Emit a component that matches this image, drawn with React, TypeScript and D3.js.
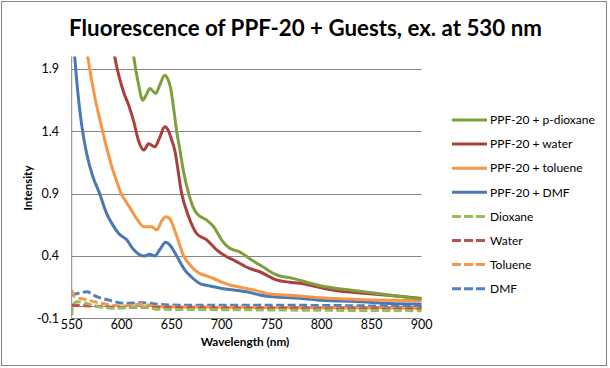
import { useRef, useEffect } from "react";
import * as d3 from "d3";

type Pt = [number, number];

const title = "Fluorescence of PPF-20 + Guests, ex. at 530 nm";
const xTicks = [550, 600, 650, 700, 750, 800, 850, 900];
const yTicks = [-0.1, 0.4, 0.9, 1.4, 1.9];

// [wavelength nm, intensity]
const ppfDioxane: Pt[] = [
  [608, 2.3], [612, 2.0], [617, 1.77], [621, 1.65], [625, 1.7], [628, 1.744],
  [634, 1.704], [638, 1.77], [643, 1.85], [646, 1.82], [649, 1.744], [652, 1.58],
  [655, 1.4], [658, 1.26], [662, 1.07], [667, 0.9], [671, 0.8], [675, 0.742],
  [685, 0.688], [692, 0.635], [700, 0.528], [708, 0.462], [718, 0.434], [730, 0.368],
  [741, 0.314], [755, 0.248], [771, 0.221], [785, 0.19], [800, 0.16], [830, 0.125],
  [860, 0.095], [885, 0.07], [900, 0.055],
];
const ppfWater: Pt[] = [
  [588, 2.3], [593, 2.0], [598, 1.82], [603, 1.69], [607, 1.61], [612, 1.48],
  [617, 1.32], [622, 1.25], [627, 1.3], [633, 1.276], [638, 1.35], [643, 1.436],
  [647, 1.4], [650, 1.33], [653, 1.25], [660, 0.9], [667, 0.715], [675, 0.58],
  [685, 0.53], [695, 0.45], [705, 0.394], [712, 0.368], [728, 0.3], [738, 0.274],
  [755, 0.208], [768, 0.19], [778, 0.181], [795, 0.154], [811, 0.128], [845, 0.1],
  [875, 0.08], [900, 0.06],
];
const ppfToluene: Pt[] = [
  [560, 2.35], [566, 2.0], [572, 1.72], [578, 1.5], [584, 1.3], [590, 1.12],
  [595, 1.0], [600, 0.89], [604, 0.84], [608, 0.79], [615, 0.7], [622, 0.635],
  [630, 0.635], [635, 0.61], [640, 0.68], [644, 0.715], [648, 0.7], [655, 0.56],
  [662, 0.4], [667, 0.34], [673, 0.29], [678, 0.26], [685, 0.24], [692, 0.22],
  [700, 0.19], [708, 0.168], [716, 0.154], [732, 0.128], [748, 0.096], [768, 0.085],
  [778, 0.08], [800, 0.065], [835, 0.052], [870, 0.045], [900, 0.042],
];
const ppfDmf: Pt[] = [
  [550, 2.3], [553, 2.0], [556, 1.72], [560, 1.45], [565, 1.22], [571, 1.04],
  [578, 0.9], [585, 0.74], [591, 0.65], [597, 0.58], [605, 0.53], [611, 0.46],
  [618, 0.41], [623, 0.4], [628, 0.415], [633, 0.4], [638, 0.45], [644, 0.51],
  [648, 0.49], [655, 0.4], [663, 0.29], [670, 0.23], [678, 0.18], [685, 0.165],
  [692, 0.154], [700, 0.14], [712, 0.128], [725, 0.114], [738, 0.088], [758, 0.069],
  [778, 0.062], [800, 0.045], [835, 0.035], [868, 0.02], [900, 0.015],
];
const dioxane: Pt[] = [
  [550, -0.075], [551, 0.0], [555, 0.034], [577, -0.006], [593, -0.019], [620, -0.006],
  [637, -0.027], [700, -0.03], [800, -0.035], [900, -0.038],
];
const water: Pt[] = [
  [550, 0.007], [575, -0.002], [600, -0.011], [625, -0.01], [650, -0.015],
  [700, -0.02], [800, -0.022], [900, -0.025],
];
const toluene: Pt[] = [
  [550, 0.128], [553, 0.074], [563, 0.053], [577, 0.026], [590, 0.007], [603, -0.001],
  [620, 0.015], [635, -0.005], [700, -0.01], [800, -0.015], [900, -0.018],
];
const dmf: Pt[] = [
  [550, 0.088], [556, 0.1], [565, 0.114], [575, 0.074], [587, 0.047], [603, 0.021],
  [620, 0.026], [637, 0.013], [660, 0.006], [700, 0.005], [750, 0.005], [800, 0.004],
  [850, 0.0], [900, -0.004],
];

const seriesNames = [
  "PPF-20 + p-dioxane",
  "PPF-20 + water",
  "PPF-20 + toluene",
  "PPF-20 + DMF",
  "Dioxane",
  "Water",
  "Toluene",
  "DMF",
];
const seriesData = [ppfDioxane, ppfWater, ppfToluene, ppfDmf, dioxane, water, toluene, dmf];

const App = () => {
  const ref = useRef<SVGSVGElement | null>(null);
  const w = 610;
  const h = 368;

  useEffect(() => {
    const colors = ["#7F9F3F", "#A9403D", "#F79646", "#4A78B5", "#9BBB59", "#C0504D", "#F79646", "#4F81BD"];
    const dashed = [false, false, false, false, true, true, true, true];
    const font = "Lato, 'Open Sans', sans-serif";

    const svg = d3.select(ref.current);
    svg.selectAll("*").remove();

    const x = d3.scaleLinear().domain([550, 900]).range([71.7, 421.7]);
    const y = d3.scaleLinear().domain([-0.1, 2.0]).range([318.4, 56.5]);

    svg.append("rect").attr("x", 1.5).attr("y", 1.5).attr("width", 605).attr("height", 364)
      .attr("fill", "white").attr("stroke", "#868686");

    svg.append("text").attr("x", 305.5).attr("y", 36).attr("text-anchor", "middle")
      .attr("font-family", font).attr("font-weight", "bold").attr("font-size", 22.3)
      .attr("fill", "#000").text(title);

    // gridlines
    svg.append("g").selectAll("line").data(yTicks).enter().append("line")
      .attr("x1", x(550)).attr("x2", x(900))
      .attr("y1", (d) => Math.round(y(d)) + 0.5).attr("y2", (d) => Math.round(y(d)) + 0.5)
      .attr("stroke", "#868686").attr("stroke-width", 1);

    // axes (horizontal axis crosses at 0)
    svg.append("line").attr("x1", x(550)).attr("x2", x(550)).attr("y1", y(2.0)).attr("y2", y(-0.1))
      .attr("stroke", "#868686");
    svg.append("line").attr("x1", x(550)).attr("x2", x(900))
      .attr("y1", Math.round(y(0)) + 0.5).attr("y2", Math.round(y(0)) + 0.5)
      .attr("stroke", "#868686");

    svg.append("g").selectAll("text").data(yTicks).enter().append("text")
      .attr("x", 59).attr("y", (d) => y(d)).attr("dy", "0.35em").attr("text-anchor", "end")
      .attr("font-family", font).attr("font-size", 12.5).attr("fill", "#000")
      .text((d) => d.toFixed(1));

    svg.append("g").selectAll("text").data(xTicks).enter().append("text")
      .attr("x", (d) => x(d)).attr("y", 325).attr("dy", "0.35em").attr("text-anchor", "middle")
      .attr("font-family", font).attr("font-size", 12.5).attr("fill", "#000")
      .text((d) => String(d));

    svg.append("text").attr("transform", "translate(28,188) rotate(-90)").attr("text-anchor", "middle")
      .attr("dy", "0.35em").attr("font-family", font).attr("font-weight", "bold").attr("font-size", 11.5)
      .text("Intensity");
    svg.append("text").attr("x", 245).attr("y", 342).attr("dy", "0.35em").attr("text-anchor", "middle")
      .attr("font-family", font).attr("font-weight", "bold").attr("font-size", 11.8)
      .text("Wavelength (nm)");

    svg.append("clipPath").attr("id", "plot-clip").append("rect")
      .attr("x", x(550)).attr("y", y(2.0)).attr("width", x(900) - x(550)).attr("height", y(-0.1) - y(2.0));

    const line = d3.line<Pt>().x((d) => x(d[0])).y((d) => y(d[1])).curve(d3.curveMonotoneX);

    const plot = svg.append("g").attr("clip-path", "url(#plot-clip)");
    // blanks first, then the PPF-20 curves
    const order = [7, 6, 5, 4, 3, 2, 1, 0];
    order.forEach((i) => {
      plot.append("path").attr("d", line(seriesData[i]))
        .attr("fill", "none").attr("stroke", colors[i]).attr("stroke-width", 3)
        .attr("stroke-linejoin", "round")
        .attr("stroke-dasharray", dashed[i] ? "8,3.5" : null);
    });

    // legend
    const legend = svg.append("g");
    seriesNames.forEach((name, i) => {
      const ly = 120 + i * 24.1;
      legend.append("line").attr("x1", 452).attr("x2", 487).attr("y1", ly).attr("y2", ly)
        .attr("stroke", colors[i]).attr("stroke-width", 3)
        .attr("stroke-dasharray", dashed[i] ? "9,3" : null);
      legend.append("text").attr("x", 490).attr("y", ly).attr("dy", "0.35em")
        .attr("font-family", font).attr("font-size", 12).attr("fill", "#000").text(name);
    });
  }, []);

  return (
    <div style={{ position: "absolute", left: 0, top: 0 }}>
      <svg ref={ref} width={w} height={h} style={{ display: "block" }} />
    </div>
  );
};

export default App;
